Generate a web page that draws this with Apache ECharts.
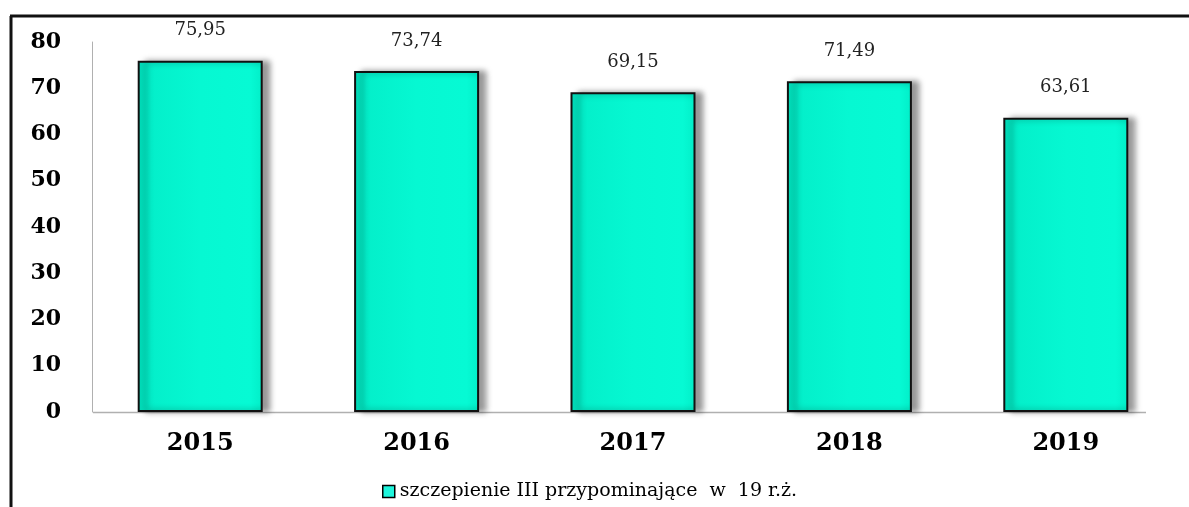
<!DOCTYPE html>
<html>
<head>
<meta charset="utf-8">
<script src="https://cdn.jsdelivr.net/npm/echarts@6/dist/echarts.min.js"></script>
<style>
  html, body { margin: 0; padding: 0; background: #fff; }
  #chart { width: 1189px; height: 507px; }
</style>
</head>
<body>
<div id="chart"></div>
<script>
"use strict";

// data
var years = ["2015", "2016", "2017", "2018", "2019"];
var values = [75.95, 73.74, 69.15, 71.49, 63.61];
var seriesName = "szczepienie III przypominające  w  19 r.ż.";

var myChart = echarts.init(document.getElementById("chart"));

var barFill = new echarts.graphic.LinearGradient(0, 0, 1, 0, [
  { offset: 0, color: "#00dcb8" },
  { offset: 0.1, color: "#04efca" },
  { offset: 0.5, color: "#06f8d2" },
  { offset: 0.9, color: "#06fad4" },
  { offset: 1, color: "#02eec8" }
]);

var option = {
  animation: false,
  grid: { left: 92, right: 15, top: 42, bottom: 95 },
  legend: {
    left: 377,
    top: 477,
    itemWidth: 12,
    itemHeight: 12,
    itemGap: 4,
    icon: "rect",
    itemStyle: { color: "#1ff5dc", borderColor: "#000", borderWidth: 1.5 },
    textStyle: { fontFamily: "DejaVu Serif", fontSize: 19, color: "#000" },
    data: [seriesName]
  },
  xAxis: {
    type: "category",
    data: years,
    axisLine: { show: false },
    axisTick: { show: false },
    axisLabel: {
      margin: 20,
      fontFamily: "DejaVu Serif",
      fontWeight: "bold",
      fontSize: 24,
      color: "#000"
    }
  },
  yAxis: {
    type: "value",
    min: 0,
    max: 80,
    interval: 10,
    axisLine: { show: true, lineStyle: { color: "#b0b0b0", width: 1 } },
    axisTick: { show: false },
    splitLine: { show: false },
    axisLabel: {
      margin: 31,
      fontFamily: "DejaVu Serif",
      fontWeight: "bold",
      fontSize: 22,
      color: "#000"
    }
  },
  series: [
    {
      name: seriesName,
      type: "bar",
      data: values,
      barWidth: 125,
      itemStyle: {
        color: barFill,
        borderColor: "#111",
        borderWidth: 2,
        shadowColor: "rgba(0,0,0,0.4)",
        shadowBlur: 6,
        shadowOffsetX: 7,
        shadowOffsetY: 0
      },
      label: {
        show: true,
        position: "top",
        distance: 21,
        fontFamily: "DejaVu Serif",
        fontSize: 18,
        color: "#222",
        formatter: function (p) {
          return p.value.toFixed(2).replace(".", ",");
        }
      }
    }
  ],
  graphic: [
    // outer frame (top and left edges)
    { type: "line", shape: { x1: 10, y1: 16, x2: 1189, y2: 16 }, style: { stroke: "#111", lineWidth: 3 } },
    { type: "line", shape: { x1: 11, y1: 16, x2: 11, y2: 507 }, style: { stroke: "#111", lineWidth: 3 } },
    // x axis baseline, shorter than the category band
    { type: "line", z: 1, shape: { x1: 93, y1: 412.5, x2: 1146, y2: 412.5 }, style: { stroke: "#b0b0b0", lineWidth: 1.5 } }
  ]
};

option && myChart.setOption(option);
</script>
</body>
</html>
